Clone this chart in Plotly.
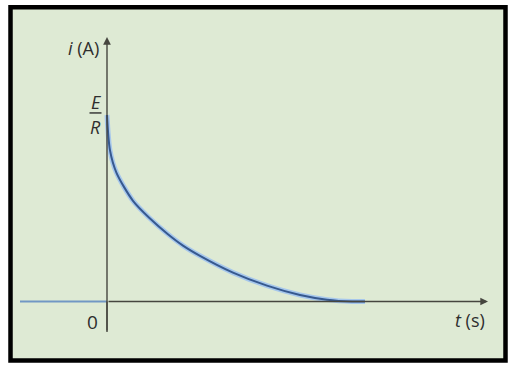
import plotly.graph_objects as go

# Data (t in arbitrary time units, i relative to E/R)
t_curve = [0, 0.06, 0.19, 0.52, 0.86, 1.2, 1.52, 1.86, 2.52, 3.2, 3.86, 4.4, 4.9, 5.16]
i_curve = [1.0, 0.81, 0.69, 0.54, 0.445, 0.365, 0.30, 0.245, 0.155, 0.085, 0.035, 0.01, 0.0, 0.0]
t_before = [-1.74, 0]
i_before = [0, 0]

W, H = 510, 371
XR = [-2.14, 8.06]
YR = [-0.3726, 1.6166]

axis_col = "#46463f"
txt_col = "#2e2e2e"
font = dict(family="Open Sans, Liberation Sans, sans-serif", size=18, color=txt_col)

fig = go.Figure()
fig.add_trace(go.Scatter(x=t_before, y=i_before, mode="lines",
                         line=dict(color="#7197c4", width=2.2), hoverinfo="skip"))
fig.add_trace(go.Scatter(x=t_curve, y=i_curve, mode="lines", line_shape="spline",
                         line=dict(color="#a6c7ec", width=5, smoothing=0.8), hoverinfo="skip"))
fig.add_trace(go.Scatter(x=t_curve, y=i_curve, mode="lines", line_shape="spline",
                         line=dict(color="#36598f", width=2, smoothing=0.8), hoverinfo="skip"))

def px2paper(px, py):
    return px / W, 1 - py / H

shapes = []
x0, y0 = px2paper(10.5, 7.2)
x1, y1 = px2paper(505.5, 360.5)
shapes.append(dict(type="rect", xref="paper", yref="paper", x0=x0, y0=y1, x1=x1, y1=y0,
                   fillcolor="#deead4", line=dict(color="black", width=4.5), layer="below"))
# fraction bar for E/R
shapes.append(dict(type="line", xref="x", yref="y", x0=-0.35, x1=-0.11, y0=1.011, y1=1.011,
                   line=dict(color=txt_col, width=1.4)))
# vertical axis continues below the origin
shapes.append(dict(type="line", xref="x", yref="y", x0=0, x1=0, y0=-0.1635, y1=0,
                   line=dict(color=axis_col, width=1.4)))

annotations = [
    # y axis with arrow
    dict(x=0, y=1.418, ax=0, ay=-0.1635, xref="x", yref="y", axref="x", ayref="y",
         text="", showarrow=True, arrowhead=2, arrowsize=1.1, arrowwidth=1.4, arrowcolor=axis_col),
    # x axis with arrow
    dict(x=7.62, y=0, ax=0, ay=0, xref="x", yref="y", axref="x", ayref="y",
         text="", showarrow=True, arrowhead=2, arrowsize=1.1, arrowwidth=1.4, arrowcolor=axis_col),
    dict(x=-0.12, y=1.359, xref="x", yref="y", text="<i>i</i> (A)", showarrow=False,
         xanchor="right", yanchor="middle", font=font),
    dict(x=-0.23, y=1.07, xref="x", yref="y", text="<i>E</i>", showarrow=False,
         xanchor="center", yanchor="middle", font=font),
    dict(x=-0.23, y=0.936, xref="x", yref="y", text="<i>R</i>", showarrow=False,
         xanchor="center", yanchor="middle", font=font),
    dict(x=-0.29, y=-0.108, xref="x", yref="y", text="0", showarrow=False,
         xanchor="center", yanchor="middle", font=dict(font, size=19)),
    dict(x=7.6, y=-0.099, xref="x", yref="y", text="<i>t</i> (s)", showarrow=False,
         xanchor="right", yanchor="middle", font=font),
]

fig.update_layout(
    width=W, height=H, margin=dict(l=0, r=0, t=0, b=0),
    paper_bgcolor="white", plot_bgcolor="rgba(0,0,0,0)",
    showlegend=False,
    xaxis=dict(range=XR, visible=False, fixedrange=True),
    yaxis=dict(range=YR, visible=False, fixedrange=True),
    shapes=shapes, annotations=annotations,
)
fig.write_html("out.html")
